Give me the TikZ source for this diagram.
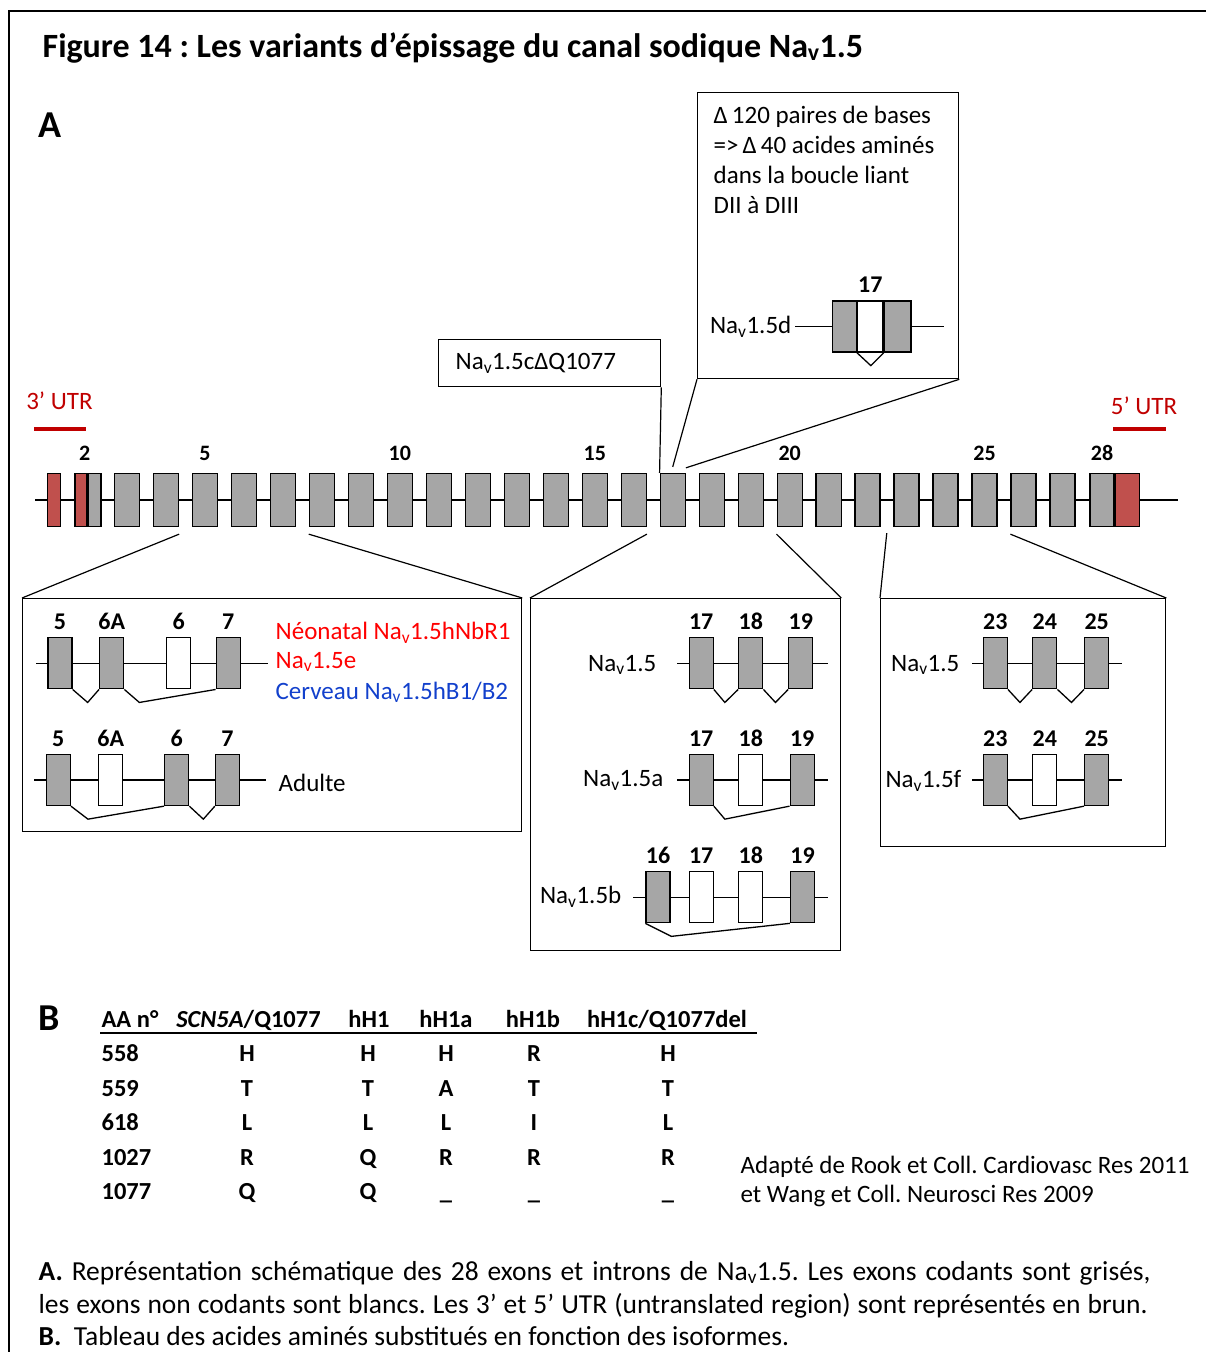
\documentclass[tikz,border=0pt]{standalone}
\usepackage{fontspec}
\setmainfont{Carlito}
\usetikzlibrary{positioning,calc}

\definecolor{exongray}{HTML}{A6A6A6}
\definecolor{utrfill}{HTML}{C0504D}
\definecolor{utrred}{HTML}{C00000}
\definecolor{brainblue}{HTML}{1240CC}
\newcommand{\nav}{Na\textsubscript{v}}
\frenchspacing

\begin{document}
\begin{tikzpicture}[
  x=1pt, y=-1pt,
  line width=1.3pt,
  exon/.style={draw, fill=exongray, minimum width=25pt, minimum height=53pt, inner sep=0pt},
  mini/.style={exon, minimum width=24pt, minimum height=51pt},
  blank/.style={mini, fill=white},
  utr/.style={exon, fill=utrfill},
  num/.style={font=\fontsize{22}{24}\selectfont\bfseries, inner sep=0pt},
  tag/.style={font=\fontsize{24}{28}\selectfont\bfseries, inner sep=0pt},
  txt/.style={font=\fontsize{25}{30}\selectfont, inner sep=0pt},
  captxt/.style={font=\fontsize{27.5}{30}\selectfont, inner sep=0pt, anchor=base west},
  cell/.style={font=\fontsize{24.5}{26}\selectfont\bfseries, inner sep=0pt, anchor=base},
  panel/.style={draw, inner sep=0pt},
  utrbar/.style={draw=utrred, line width=4.5pt},
  zoomline/.style={line width=1.2pt}
]
\useasboundingbox (0,0) rectangle (1206,1352);

% ---------------- frame and title ----------------
\draw (9,1352) -- (9,11) -- (1206,11);
\node[anchor=base west, inner sep=0pt, font=\fontsize{34}{36}\selectfont\bfseries] (title) at (42,57)
  {Figure 14 : Les variants d’épissage du canal sodique \nav1.5};
\node[anchor=base west, inner sep=0pt, font=\fontsize{38}{40}\selectfont\bfseries] (labA) at (38,137) {A};

% ---------------- the 28 exons ----------------
\coordinate (rowL) at (35,500);
\coordinate (rowR) at (1178,500);
\draw (rowL) -- (rowR);
\node[utr, minimum width=13pt] (e1) at (53.7,500) {};
\node[utr, minimum width=12pt] (e2u) at (81,500) {};
\node[exon, minimum width=12.6pt, anchor=west] (e2) at (e2u.east) {};
\foreach \n in {3,...,27}
  \node[exon] (e\n) at ({127+(\n-3)*38.98},500) {};
\node[exon, minimum width=24pt] (e28) at (1102,500) {};
\node[utr, minimum width=24pt, anchor=west] (e28u) at (e28.east) {};

\node[num, above=12pt of e2u.north east, xshift=-3pt] {2};
\foreach \n in {5,10,15,20,25,28}
  \node[num, above=12pt of e\n] {\n};

% UTR marks
\node[txt, text=utrred] (utr3) at (59.5,401) {3’ UTR};
\node[txt, text=utrred] (utr5) at (1144,406) {5’ UTR};
\draw[utrbar] (34,429) -- (86,429);
\draw[utrbar] (1113,429) -- (1166,429);

% ---------------- Nav1.5c and Nav1.5d callouts ----------------
\node[panel, txt, anchor=north west, text width=188pt, inner xsep=17pt, minimum height=47pt] (cbox) at (438,339)
  {\nav1.5cΔQ1077};
\draw[zoomline] (cbox.south east) -- (e17.north west);

\node[panel, anchor=north west, minimum width=261pt, minimum height=286pt] (dbox) at (697,92) {};
\node[txt, anchor=north west, align=left] (dtext) at (713,105)
  {Δ\,120 paires de bases\\=>\,Δ\,40 acides aminés\\dans la boucle liant\\DII à DIII};
\coordinate (dL) at (795,326.5);
\coordinate (dR) at (944,326.5);
\draw (dL) -- (dR);
\node[mini] (d17a) at (844.2,326.5) {};
\node[blank, minimum width=25.6pt, anchor=west] (d17b) at (d17a.east) {};
\node[mini, minimum width=26.7pt, anchor=west] (d17c) at (d17b.east) {};
\node[num, font=\fontsize{24}{26}\selectfont\bfseries, above=7pt of d17b] {17};
\node[txt, anchor=east, xshift=-3pt] at (dL) {\nav1.5d};
\draw (d17a.south east) -- ++(14,13) -- (d17c.south west);
\draw[zoomline] (dbox.south west) -- ($(e17.north)+(0,-6)$);
\draw[zoomline] (dbox.south east) -- ($(e17.north east)+(0,-5)$);

% ---------------- exons 5 to 7 ----------------
\node[panel, anchor=north west, minimum width=499pt, minimum height=233pt] (boxL) at (22,598) {};
\draw[zoomline] ($(e4.south east)+(0,7)$) -- (boxL.north west);
\draw[zoomline] ($(e8.south west)+(0,7)$) -- (boxL.north east);

\coordinate (l1L) at (36,663.3);
\coordinate (l1R) at (268,663.3);
\draw (l1L) -- (l1R);
\node[mini] (l1a) at (60,663.3) {};
\node[mini] (l1b) at (111.7,663.3) {};
\node[blank] (l1c) at (178.7,663.3) {};
\node[mini] (l1d) at (228.3,663.3) {};
\node[tag, above=7pt of l1a] {5};
\node[tag, above=7pt of l1b] {6A};
\node[tag, above=7pt of l1c] {6};
\node[tag, above=7pt of l1d] {7};
\draw (l1a.south east) -- ++(15,13) -- (l1b.south west);
\draw (l1b.south east) -- ++(15,13) -- (l1d.south west);
\node[txt, anchor=west, text=red] (neo) at (275,633) {Néonatal \nav1.5hNbR1};
\node[txt, anchor=west, text=red] (nave) at (275,662) {\nav1.5e};
\node[txt, anchor=west, text=brainblue] (brain) at (275,692.3) {Cerveau \nav1.5hB1/B2};

\coordinate (l2L) at (34,780);
\coordinate (l2R) at (266,780);
\draw (l2L) -- (l2R);
\node[mini] (l2a) at (58.3,780) {};
\node[blank] (l2b) at (110.8,780) {};
\node[mini] (l2c) at (176.7,780) {};
\node[mini] (l2d) at (227.5,780) {};
\node[tag, above=7pt of l2a] {5};
\node[tag, above=7pt of l2b] {6A};
\node[tag, above=7pt of l2c] {6};
\node[tag, above=7pt of l2d] {7};
\draw (l2a.south east) -- ++(17,13) -- (l2c.south west);
\draw (l2c.south east) -- ++(14,13) -- (l2d.south west);
\node[txt, anchor=west] (adult) at (278,782.7) {Adulte};

% ---------------- exons 16 to 19 ----------------
\node[panel, anchor=north west, minimum width=310pt, minimum height=352pt] (boxM) at (530,598) {};
\draw[zoomline] ($(e16.south east)+(0,7)$) -- (boxM.north west);
\draw[zoomline] ($(e20.south west)+(0,7)$) -- (boxM.north east);

\coordinate (m1L) at (677,663.3);
\coordinate (m1R) at (828,663.3);
\draw (m1L) -- (m1R);
\node[mini] (m1a) at (701.2,663.3) {};
\node[mini] (m1b) at (750.8,663.3) {};
\node[mini] (m1c) at (800.8,663.3) {};
\node[tag, above=7pt of m1a] {17};
\node[tag, above=7pt of m1b] {18};
\node[tag, above=7pt of m1c] {19};
\draw (m1a.south east) -- ++(11,13) -- (m1b.south west);
\draw (m1b.south east) -- ++(12,13) -- (m1c.south west);
\node[txt, anchor=east] at (657,665) {\nav1.5};

\coordinate (m2L) at (677,780);
\coordinate (m2R) at (828,780);
\draw (m2L) -- (m2R);
\node[mini] (m2a) at (701.2,780) {};
\node[blank] (m2b) at (750.8,780) {};
\node[mini] (m2c) at (802.2,780) {};
\node[tag, above=7pt of m2a] {17};
\node[tag, above=7pt of m2b] {18};
\node[tag, above=7pt of m2c] {19};
\draw (m2a.south east) -- ++(11,13) -- (m2c.south west);
\node[txt, anchor=east] at (664,780.7) {\nav1.5a};

\coordinate (m3L) at (633,897.2);
\coordinate (m3R) at (828,897.2);
\draw (m3L) -- (m3R);
\node[mini] (m3a) at (658,897.2) {};
\node[blank] (m3b) at (701.2,897.2) {};
\node[blank] (m3c) at (750.8,897.2) {};
\node[mini] (m3d) at (802.5,897.2) {};
\node[tag, above=7pt of m3a] {16};
\node[tag, above=7pt of m3b] {17};
\node[tag, above=7pt of m3c] {18};
\node[tag, above=7pt of m3d] {19};
\draw (m3a.south west) -- ++(26,13) -- (m3d.south west);
\node[txt, anchor=east] at (622,896.7) {\nav1.5b};

% ---------------- exons 23 to 25 ----------------
\node[panel, anchor=north west, minimum width=285pt, minimum height=248pt] (boxR) at (880,598) {};
\draw[zoomline] ($(e22.south east)+(6,6)$) -- (boxR.north west);
\draw[zoomline] ($(e26.south west)+(0,7)$) -- (boxR.north east);

\coordinate (r1L) at (972,663.3);
\coordinate (r1R) at (1122,663.3);
\draw (r1L) -- (r1R);
\node[mini] (r1a) at (995.3,663.3) {};
\node[mini] (r1b) at (1044.8,663.3) {};
\node[mini] (r1c) at (1096.7,663.3) {};
\node[tag, above=7pt of r1a] {23};
\node[tag, above=7pt of r1b] {24};
\node[tag, above=7pt of r1c] {25};
\draw (r1a.south east) -- ++(12,13) -- (r1b.south west);
\draw (r1b.south east) -- ++(14,13) -- (r1c.south west);
\node[txt, anchor=east] at (960,665) {\nav1.5};

\coordinate (r2L) at (972,780);
\coordinate (r2R) at (1122,780);
\draw (r2L) -- (r2R);
\node[mini] (r2a) at (995.3,780) {};
\node[blank] (r2b) at (1044.8,780) {};
\node[mini] (r2c) at (1096.7,780) {};
\node[tag, above=7pt of r2a] {23};
\node[tag, above=7pt of r2b] {24};
\node[tag, above=7pt of r2c] {25};
\draw (r2a.south east) -- ++(12,13) -- (r2c.south west);
\node[txt, anchor=east] at (962,780.7) {\nav1.5f};

% ---------------- table B ----------------
\node[anchor=base west, inner sep=0pt, font=\fontsize{38}{40}\selectfont\bfseries] (labB) at (38,1030) {B};
\node[cell, anchor=base west] (hAA) at (101,1027) {AA n°};
\node[cell] (hSCN) at (248.5,1027) {\textit{SCN5A}/Q1077};
\node[cell] (hH1) at (369,1027) {hH1};
\node[cell] (hH1a) at (446,1027) {hH1a};
\node[cell] (hH1b) at (533,1027) {hH1b};
\node[cell] (hH1c) at (667,1027) {hH1c/Q1077del};
\coordinate (ruleL) at (100,1033);
\coordinate (ruleR) at (757,1033);
\draw[line width=1.2pt] (ruleL) -- (ruleR);

\foreach \aa/\a/\b/\c/\d/\e [count=\i] in
  {558/H/H/H/R/H, 559/T/T/A/T/T, 618/L/L/L/I/L, 1027/R/Q/R/R/R, 1077/Q/Q/\_/\_/\_} {
  \node[cell, anchor=base west] (aa\i) at (101,{1027+\i*34.5}) {\aa};
  \node[cell] at (247,{1027+\i*34.5}) {\a};
  \node[cell] at (368,{1027+\i*34.5}) {\b};
  \node[cell] at (446,{1027+\i*34.5}) {\c};
  \node[cell] at (534,{1027+\i*34.5}) {\d};
  \node[cell] at (668,{1027+\i*34.5}) {\e};
}

\node[txt, anchor=base west] (src1) at (740,1173) {Adapté de Rook et Coll. Cardiovasc Res 2011};
\node[txt, anchor=base west] (src2) at (740,1202) {et Wang et Coll. Neurosci Res 2009};

% ---------------- caption ----------------
\node[captxt] (cap1) at (38,1280)
  {\makebox[1112pt][s]{\textbf{A.} Représentation schématique des 28 exons et introns de \nav1.5. Les exons codants sont grisés,}};
\node[captxt] (cap2) at (38,1313)
  {\makebox[1109pt][s]{les exons non codants sont blancs. Les 3’ et 5’ UTR (untranslated region) sont représentés en brun.}};
\node[captxt] (cap3) at (38,1345)
  {\textbf{B.}\ \ Tableau des acides aminés substitués en fonction des isoformes.};

\end{tikzpicture}
\end{document}
